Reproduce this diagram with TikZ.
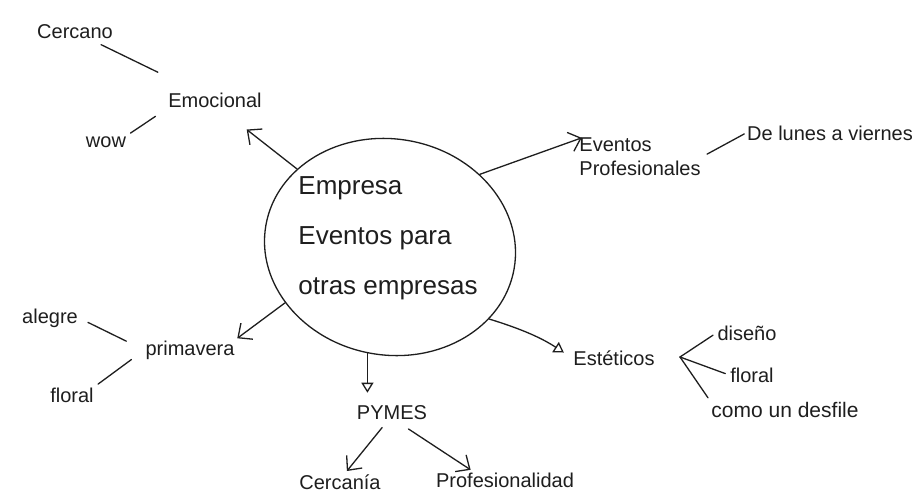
\documentclass[tikz,border=0pt]{standalone}
\usepackage{fontspec}
\setmainfont{Liberation Sans}
\usetikzlibrary{arrows.meta,shapes.geometric}
\definecolor{ink}{HTML}{1E1E1E}
\tikzset{
  hand/.style={font=\fontsize{20}{24}\selectfont, text=ink, inner sep=1pt},
  big/.style={font=\fontsize{26}{50}\selectfont, text=ink, inner sep=1pt, align=left},
  conn/.style={draw=ink, line width=1.3pt, line cap=round},
  barb/.style={conn, -{Straight Barb[length=11pt,width=20pt,line width=1.3pt]}},
  tri/.style={conn, -{Triangle[open,length=10pt,width=12pt,line width=1.3pt]}}
}
\begin{document}
\begin{tikzpicture}[x=1pt,y=-1pt]
\useasboundingbox (0,0) rectangle (923,503);
\fill[white] (0,0) rectangle (923,503);
% centre
\node[draw=ink, line width=1.3pt, ellipse, rotate=-10, minimum width=252pt, minimum height=216pt, inner sep=0pt] (core) at (390,247) {};
\node[big] (ctext) at (388,238) {Empresa\\Eventos para\\otras empresas};
% Emocional branch
\node[hand] (emoc) at (215,100) {Emocional};
\node[hand] (cercano) at (75,32) {Cercano};
\node[hand] (wow) at (106,142) {wow};
% Eventos Profesionales branch
\node[hand, align=left] (evprof) at (640,157) {Eventos\\Profesionales};
\node[hand] (lunes) at (830,133) {De lunes a viernes};
% primavera branch
\node[hand] (prim) at (190,350) {primavera};
\node[hand] (alegre) at (50,318) {alegre};
\node[hand] (floralA) at (72,395) {floral};
% Esteticos branch
\node[hand] (estet) at (614,358) {Estéticos};
\node[hand] (diseno) at (747,333) {diseño};
\node[hand] (floralB) at (752,375) {floral};
\node[hand, font=\fontsize{21}{24}\selectfont] (desfile) at (785,410) {como un desfile};
\coordinate (junc) at (680,357);
% PYMES branch
\node[hand] (pymes) at (392,413) {PYMES};
\node[hand] (cercania) at (340,482) {Cercanía};
\node[hand] (profes) at (505,480) {Profesionalidad};
% connectors from centre
\draw[barb, shorten >=34pt] (core.150) -- (emoc.-60);
\draw[barb, shorten >=3pt] (core.49) -- (evprof.160);
\draw[barb, shorten >=2pt] (core.218) -- (prim.north east);
\draw[tri, shorten >=10pt] (core.334) to[bend left=8] (estet.west);
\draw[tri, shorten >=12pt] (core.268) -- (core.268 |- pymes.north);
% sub connectors
\draw[conn, shorten <=10pt, shorten >=44pt] (cercano) -- (emoc);
\draw[conn, shorten <=4pt, shorten >=14pt] (wow.north east) -- (emoc.south west);
\draw[conn, shorten <=6pt, shorten >=2pt] (evprof.east) -- (lunes.west);
\draw[conn, shorten <=10pt, shorten >=20pt] (alegre.east) -- (prim.west);
\draw[conn, shorten <=4pt, shorten >=16pt] (floralA.north east) -- (prim.west);
\draw[conn, shorten >=4pt] (junc) -- (diseno.west);
\draw[conn, shorten >=4pt] (junc) -- (floralB.west);
\draw[conn, shorten >=4pt] (junc) -- (desfile.north west);
\draw[barb, shorten <=8pt, shorten >=3pt] (pymes.-120) -- (cercania.60);
\draw[barb, shorten <=14pt, shorten >=3pt] (pymes.-60) -- (profes.165);
\end{tikzpicture}
\end{document}
